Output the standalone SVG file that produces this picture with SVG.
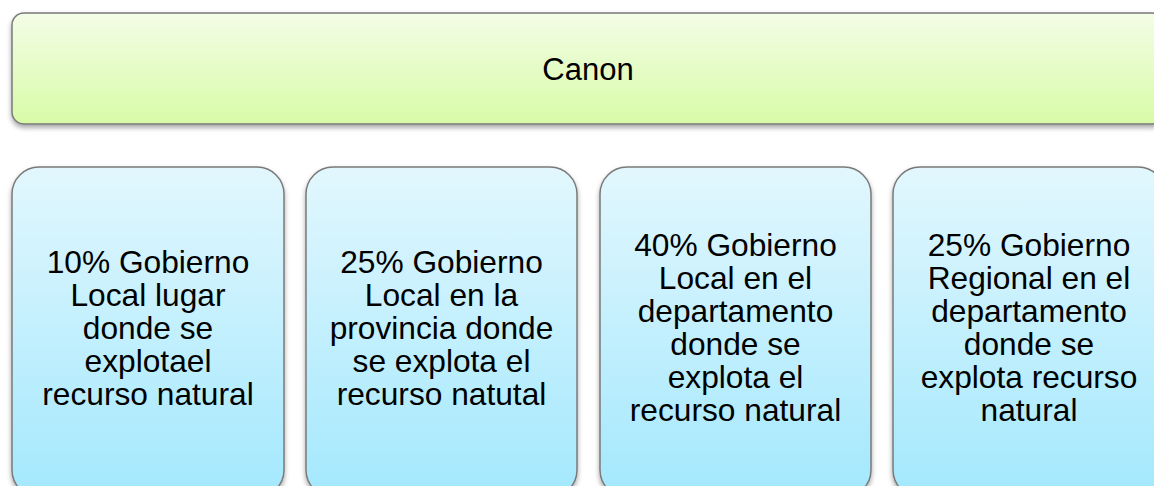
<svg xmlns="http://www.w3.org/2000/svg" width="1154" height="486" viewBox="0 0 1154 486">
<defs>
<linearGradient id="gGreen" x1="0" y1="0" x2="0" y2="1">
<stop offset="0" stop-color="#f3fde6"/>
<stop offset="1" stop-color="#d8fba7"/>
</linearGradient>
<linearGradient id="gBlue" x1="0" y1="0" x2="0" y2="1">
<stop offset="0" stop-color="#e2f7fd"/>
<stop offset="1" stop-color="#a3e8fd"/>
</linearGradient>
<filter id="shadow" x="-10%" y="-10%" width="120%" height="130%">
<feDropShadow dx="0" dy="3" stdDeviation="2.5" flood-color="#000" flood-opacity="0.35"/>
</filter>
</defs>
<style>
.banner{fill:url(#gGreen);stroke:#7a7a7a;stroke-width:1.5;filter:url(#shadow)}
.box{fill:url(#gBlue);stroke:#7a7a7a;stroke-width:1.5;filter:url(#shadow)}
.t{font-family:"Liberation Sans",Arial,sans-serif;font-size:31.7px;fill:#000;text-anchor:middle}
.c{font-family:"Liberation Sans",Arial,sans-serif;font-size:31px;fill:#000;text-anchor:middle}
</style>
<rect width="1154" height="486" fill="#fff"/>
<g id="canon">
<rect class="banner" x="12" y="13" width="1152" height="111" rx="12"/>
<text class="c" x="588" y="80">Canon</text>
</g>
<g id="connectors"></g>
<g id="n10">
<rect class="box" x="12" y="167" width="272" height="330" rx="27"/>
<text class="t" x="148" y="273"><tspan x="148">10% Gobierno</tspan><tspan x="148" dy="33">Local lugar</tspan><tspan x="148" dy="33">donde se</tspan><tspan x="148" dy="33">explotael</tspan><tspan x="148" dy="33">recurso natural</tspan></text>
</g>
<g id="n25a">
<rect class="box" x="306" y="167" width="271" height="330" rx="27"/>
<text class="t" x="441.5" y="273"><tspan x="441.5">25% Gobierno</tspan><tspan x="441.5" dy="33">Local en la</tspan><tspan x="441.5" dy="33">provincia donde</tspan><tspan x="441.5" dy="33">se explota el</tspan><tspan x="441.5" dy="33">recurso natutal</tspan></text>
</g>
<g id="n40">
<rect class="box" x="600" y="167" width="271" height="330" rx="27"/>
<text class="t" x="735.5" y="256"><tspan x="735.5">40% Gobierno</tspan><tspan x="735.5" dy="33">Local en el</tspan><tspan x="735.5" dy="33">departamento</tspan><tspan x="735.5" dy="33">donde se</tspan><tspan x="735.5" dy="33">explota el</tspan><tspan x="735.5" dy="33">recurso natural</tspan></text>
</g>
<g id="n25b">
<rect class="box" x="893" y="167" width="272" height="330" rx="27"/>
<text class="t" x="1029" y="256"><tspan x="1029">25% Gobierno</tspan><tspan x="1029" dy="33">Regional en el</tspan><tspan x="1029" dy="33">departamento</tspan><tspan x="1029" dy="33">donde se</tspan><tspan x="1029" dy="33">explota recurso</tspan><tspan x="1029" dy="33">natural</tspan></text>
</g>
</svg>
